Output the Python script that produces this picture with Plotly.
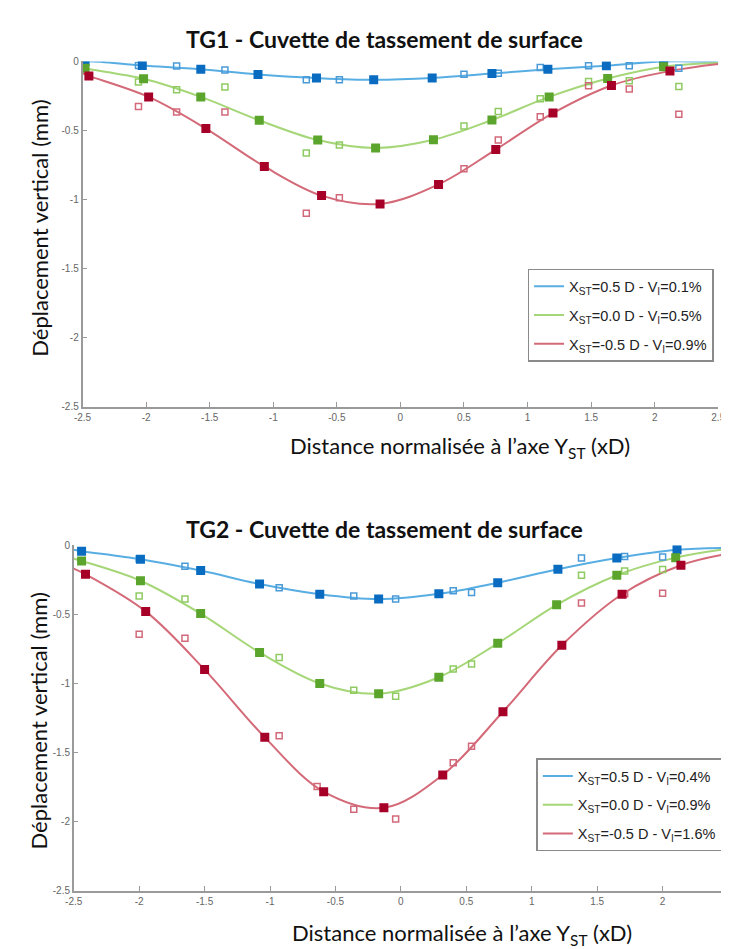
import plotly.graph_objects as go

W, H = 729, 949

# ---------------- TG1 data ----------------
tg1_filled_x = {
    "blue":  [-2.48, -2.03, -1.57, -1.12, -0.66, -0.21, 0.25, 0.72, 1.16, 1.62, 2.07],
    "green": [-2.48, -2.02, -1.57, -1.11, -0.65, -0.195, 0.26, 0.72, 1.17, 1.63, 2.07],
    "red":   [-2.45, -1.98, -1.53, -1.07, -0.62, -0.16, 0.30, 0.75, 1.20, 1.66, 2.12],
}
tg1_filled_y = {
    "blue":  [0.0, -0.03, -0.057, -0.095, -0.12, -0.133, -0.12, -0.088, -0.057, -0.031, 0.0],
    "green": [-0.05, -0.126, -0.257, -0.426, -0.569, -0.626, -0.567, -0.424, -0.257, -0.124, -0.038],
    "red":   [-0.105, -0.257, -0.486, -0.76, -0.971, -1.031, -0.89, -0.638, -0.374, -0.174, -0.069],
}
tg1_open_x = [-2.06, -1.76, -1.38, -0.74, -0.48, 0.50, 0.77, 1.10, 1.48, 1.80, 2.19]
tg1_open_y = {
    "blue":  [-0.03, -0.034, -0.062, -0.133, -0.133, -0.093, -0.086, -0.045, -0.031, -0.031, -0.05],
    "green": [-0.15, -0.205, -0.186, -0.662, -0.605, -0.467, -0.362, -0.271, -0.145, -0.14, -0.181],
    "red":   [-0.326, -0.367, -0.367, -1.098, -0.986, -0.776, -0.569, -0.40, -0.176, -0.20, -0.383],
}
tg1_fit_ends = {"blue": (-0.01, -0.005), "green": (-0.043, -0.012), "red": (-0.086, -0.018)}
tg1_legend = {
    "blue":  "X<sub>ST</sub>=0.5 D - V<sub>I</sub>=0.1%",
    "green": "X<sub>ST</sub>=0.0 D - V<sub>I</sub>=0.5%",
    "red":   "X<sub>ST</sub>=-0.5 D - V<sub>I</sub>=0.9%",
}

# ---------------- TG2 data ----------------
tg2_filled_x = {
    "blue":  [-2.44, -1.99, -1.53, -1.08, -0.62, -0.17, 0.29, 0.74, 1.20, 1.65, 2.11],
    "green": [-2.44, -1.99, -1.53, -1.08, -0.62, -0.17, 0.29, 0.74, 1.19, 1.65, 2.10],
    "red":   [-2.41, -1.95, -1.50, -1.04, -0.59, -0.13, 0.32, 0.78, 1.23, 1.69, 2.14],
}
tg2_filled_y = {
    "blue":  [-0.043, -0.102, -0.183, -0.281, -0.355, -0.39, -0.352, -0.271, -0.174, -0.093, -0.033],
    "green": [-0.114, -0.257, -0.495, -0.776, -1.0, -1.074, -0.955, -0.71, -0.431, -0.217, -0.09],
    "red":   [-0.21, -0.479, -0.90, -1.39, -1.783, -1.90, -1.662, -1.205, -0.724, -0.355, -0.145],
}
tg2_open_x = [-2.0, -1.65, -0.93, -0.64, -0.36, -0.04, 0.40, 0.54, 1.38, 1.71, 2.0]
tg2_open_y = {
    "blue":  [-0.10, -0.152, -0.307, None, -0.367, -0.39, -0.329, -0.343, -0.093, -0.081, -0.086],
    "green": [-0.367, -0.39, -0.812, None, -1.05, -1.093, -0.895, -0.86, -0.217, -0.186, -0.176],
    "red":   [-0.645, -0.674, -1.379, -1.745, -1.91, -1.98, -1.574, -1.455, -0.419, -0.352, -0.348],
}
tg2_fit_ends = {"blue": (-0.033, -0.019), "green": (-0.098, -0.026), "red": (-0.169, -0.062)}
tg2_legend = {
    "blue":  "X<sub>ST</sub>=0.5 D - V<sub>I</sub>=0.4%",
    "green": "X<sub>ST</sub>=0.0 D - V<sub>I</sub>=0.9%",
    "red":   "X<sub>ST</sub>=-0.5 D - V<sub>I</sub>=1.6%",
}

x_ticks = [-2.5, -2, -1.5, -1, -0.5, 0, 0.5, 1, 1.5, 2, 2.5]
x_ticklabels = ["-2.5", "-2", "-1.5", "-1", "-0.5", "0", "0.5", "1", "1.5", "2", "2.5"]
y_ticks = [0, -0.5, -1, -1.5, -2, -2.5]
y_ticklabels = ["0", "-0.5", "-1", "-1.5", "-2", "-2.5"]

line_col = {"blue": "#58aee3", "green": "#a5d677", "red": "#d46a78"}
fill_col = {"blue": "#0a6cc0", "green": "#5ba52d", "red": "#a60028"}
open_col = {"blue": "#4a9ad8", "green": "#8fcb62", "red": "#d2697a"}

fig = go.Figure()


def add_panel(filled_x, filled_y, open_x, open_y, fit_ends, legend_text, xa, ya, leg):
    for s in ["blue", "green", "red"]:
        fx = [-2.5] + filled_x[s] + [2.5]
        fy = [fit_ends[s][0]] + filled_y[s] + [fit_ends[s][1]]
        fig.add_trace(go.Scatter(
            x=fx, y=fy, mode="lines", line=dict(color=line_col[s], width=2, shape="spline", smoothing=1.0),
            name=legend_text[s], legend=leg, legendgroup=leg + s, xaxis=xa, yaxis=ya, showlegend=True))
    for s in ["blue", "green", "red"]:
        fig.add_trace(go.Scatter(
            x=open_x, y=open_y[s], mode="markers",
            marker=dict(symbol="square-open", size=6, color=open_col[s], line=dict(width=1.5, color=open_col[s])),
            xaxis=xa, yaxis=ya, showlegend=False))
        fig.add_trace(go.Scatter(
            x=filled_x[s], y=filled_y[s], mode="markers",
            marker=dict(symbol="square", size=9, color=fill_col[s], line=dict(width=0)),
            xaxis=xa, yaxis=ya, showlegend=False))


add_panel(tg1_filled_x, tg1_filled_y, tg1_open_x, tg1_open_y, tg1_fit_ends, tg1_legend, "x", "y", "legend")
add_panel(tg2_filled_x, tg2_filled_y, tg2_open_x, tg2_open_y, tg2_fit_ends, tg2_legend, "x2", "y2", "legend2")

axis_common = dict(
    showline=True, linecolor="#9a9a9a", linewidth=1.5, ticks="inside", ticklen=5, tickcolor="#9a9a9a",
    tickfont=dict(family="Liberation Sans, Arial", size=10, color="#666666"),
    showgrid=False, zeroline=False, mirror=False,
)


def px_x(p):
    return p / W


def px_y(p):
    return 1 - p / H


legend_common = dict(
    xanchor="left", yanchor="top", bordercolor="#8a8a8a", borderwidth=1.5, bgcolor="white",
    font=dict(family="Liberation Sans, Arial", size=14.5, color="#222222"),
    traceorder="grouped", tracegroupgap=7, itemwidth=30,
)

fig.update_layout(
    width=W, height=H, margin=dict(l=0, r=0, t=0, b=0),
    paper_bgcolor="white", plot_bgcolor="white",
    xaxis=dict(domain=[px_x(67), px_x(717)], range=[-2.5, 2.5], anchor="y",
               tickvals=x_ticks, ticktext=x_ticklabels, **axis_common),
    yaxis=dict(domain=[px_y(398), px_y(48)], range=[-2.5, 0], anchor="x",
               tickvals=y_ticks, ticktext=y_ticklabels, **axis_common),
    xaxis2=dict(domain=[px_x(58), px_x(727)], range=[-2.5, 2.5], anchor="y2",
                tickvals=x_ticks, ticktext=x_ticklabels, **axis_common),
    yaxis2=dict(domain=[px_y(888), px_y(538)], range=[-2.5, 0], anchor="x2",
                tickvals=y_ticks, ticktext=y_ticklabels, **axis_common),
    legend=dict(x=px_x(522), y=px_y(258), **legend_common),
    legend2=dict(x=px_x(531), y=px_y(754), **legend_common),
    showlegend=True,
)

title_font = dict(family="Lato, Open Sans", size=23, color="#111111")
label_font = dict(family="Lato, Open Sans", size=22, color="#111111")

annotations = [
    dict(text="<b>TG1 - Cuvette de tassement de surface</b>", x=px_x(376), y=px_y(25), font=title_font),
    dict(text="<b>TG2 - Cuvette de tassement de surface</b>", x=px_x(376), y=px_y(522), font=title_font),
    dict(text="Déplacement vertical (mm)", x=px_x(23), y=px_y(217), textangle=-90, font=label_font),
    dict(text="Déplacement vertical (mm)", x=px_x(22), y=px_y(716), textangle=-90, font=label_font),
    dict(text="Distance normalisée à l’axe Y<sub>ST</sub> (xD)", x=px_x(453), y=px_y(439), font=label_font),
    dict(text="Distance normalisée à l’axe Y<sub>ST</sub> (xD)", x=px_x(455), y=px_y(932), font=label_font),
]
for a in annotations:
    a.update(xref="paper", yref="paper", showarrow=False, xanchor="center", yanchor="middle")
fig.update_layout(annotations=annotations)

fig.write_html("out.html")
